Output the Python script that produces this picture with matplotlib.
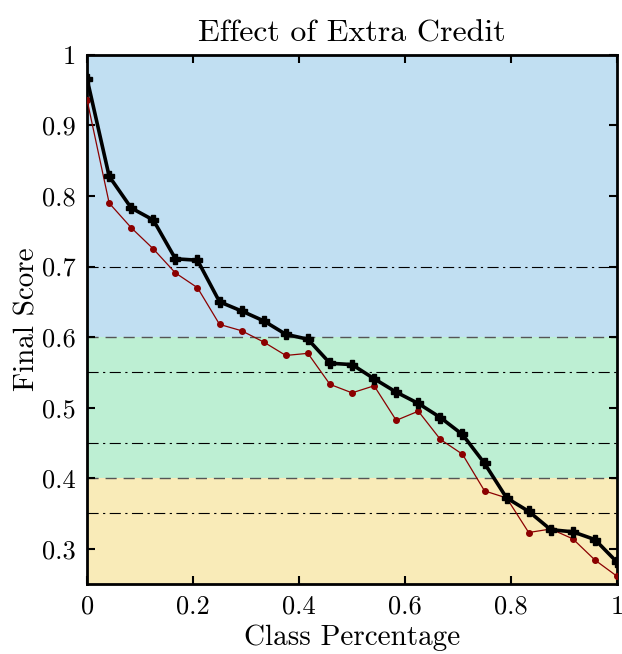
import matplotlib
matplotlib.use("Agg")
import matplotlib.pyplot as plt
from matplotlib.ticker import FuncFormatter

plt.rcParams['font.family'] = 'serif'
plt.rcParams['font.serif'] = ['cmr10']
plt.rcParams['mathtext.fontset'] = 'cm'
plt.rcParams['axes.formatter.use_mathtext'] = True

# Data
n_points = 25
class_pct = [i / (n_points - 1) for i in range(n_points)]
score_with_credit = [0.966, 0.828, 0.783, 0.766, 0.711, 0.709, 0.650, 0.637, 0.623,
                     0.604, 0.597, 0.563, 0.561, 0.541, 0.522, 0.506, 0.486, 0.462,
                     0.421, 0.372, 0.353, 0.327, 0.324, 0.313, 0.281]
score_original = [0.936, 0.790, 0.755, 0.725, 0.691, 0.670, 0.618, 0.609, 0.593,
                  0.574, 0.577, 0.533, 0.521, 0.531, 0.482, 0.495, 0.455, 0.434,
                  0.382, 0.372, 0.323, 0.328, 0.314, 0.284, 0.261]
bands = [(0.6, 1.0, '#c1dff2'), (0.4, 0.6, '#bdefd3'), (0.25, 0.4, '#f9ebb8')]
dashed_levels = [0.6, 0.4]
dashdot_levels = [0.7, 0.55, 0.45, 0.35]

fig = plt.figure(figsize=(6.22, 6.54), dpi=100)
ax = fig.add_axes([0.140, 0.107, 0.852, 0.809])

for lo, hi, c in bands:
    ax.axhspan(lo, hi, color=c, lw=0, zorder=0)
for lv in dashed_levels:
    ax.axhline(lv, color='#555555', lw=1.0, ls=(0, (8, 5)), zorder=1)
for lv in dashdot_levels:
    ax.axhline(lv, color='black', lw=0.8, ls=(0, (10, 4, 2, 4)), zorder=1)

ax.plot(class_pct, score_original, color='#8b0000', lw=0.9, marker='o',
        markersize=4, zorder=3)
ax.plot(class_pct, score_with_credit, color='black', lw=2.6, marker='P',
        markersize=7, zorder=4)

ax.set_xlim(0, 1)
ax.set_ylim(0.25, 1)
ax.set_xticks([0, 0.2, 0.4, 0.6, 0.8, 1])
ax.set_yticks([0.3, 0.4, 0.5, 0.6, 0.7, 0.8, 0.9, 1])
fmt = FuncFormatter(lambda v, p: ('%g' % round(v, 2)))
ax.xaxis.set_major_formatter(fmt)
ax.yaxis.set_major_formatter(fmt)
ax.tick_params(direction='in', top=True, right=True, length=6, width=1.5,
               labelsize=19, pad=8)
for s in ax.spines.values():
    s.set_linewidth(2)

ax.set_title('Effect of Extra Credit', fontsize=23, pad=10)
ax.set_xlabel('Class Percentage', fontsize=21, labelpad=4)
ax.set_ylabel('Final Score', fontsize=21, labelpad=1)

fig.savefig('out.png', dpi=100)
